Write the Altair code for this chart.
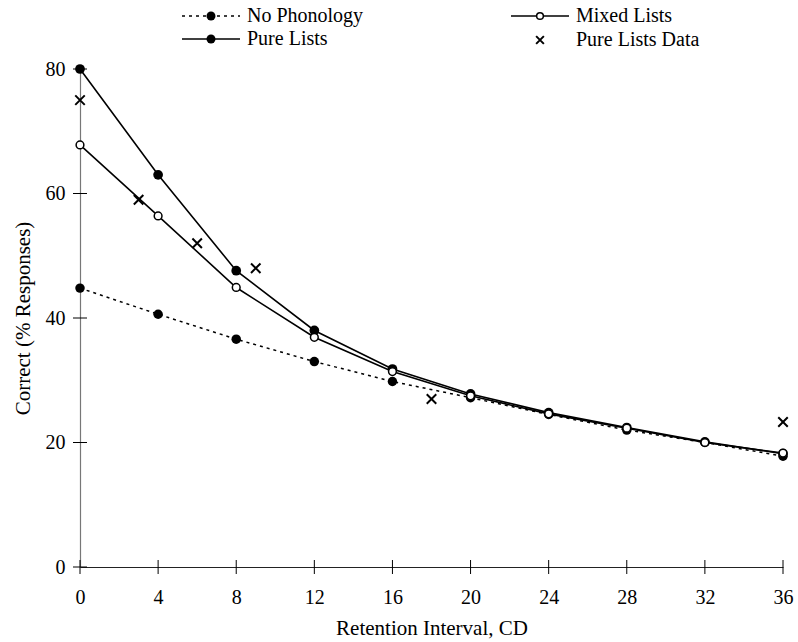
import altair as alt
import pandas as pd

# ---- data ----
x_vals = [0, 4, 8, 12, 16, 20, 24, 28, 32, 36]
no_phonology = [44.8, 40.6, 36.6, 33.0, 29.8, 27.2, 24.5, 22.0, 20.0, 17.8]
pure_lists = [80.0, 63.0, 47.6, 38.0, 31.8, 27.8, 24.8, 22.4, 20.1, 18.2]
mixed_lists = [67.8, 56.4, 44.9, 36.9, 31.4, 27.5, 24.6, 22.3, 20.0, 18.3]
data_x = [0, 3, 6, 9, 18, 36]
data_y = [75.0, 59.0, 52.0, 48.0, 27.0, 23.3]

x_ticks = [0, 4, 8, 12, 16, 20, 24, 28, 32, 36]
y_ticks = [0, 20, 40, 60, 80]

legend_labels = ["No Phonology", "Pure Lists", "Mixed Lists", "Pure Lists Data"]

FONT = "Liberation Serif"
W, H = 703, 498

df_np = pd.DataFrame({"x": x_vals, "y": no_phonology})
df_pl = pd.DataFrame({"x": x_vals, "y": pure_lists})
df_ml = pd.DataFrame({"x": x_vals, "y": mixed_lists})
df_d = pd.DataFrame({"x": data_x, "y": data_y})

xs = alt.Scale(domain=[0, 36], nice=False, zero=False)
ys = alt.Scale(domain=[0, 80], nice=False)

X_PATH = "M-1,-1L1,1M1,-1L-1,1"

xenc = alt.X("x:Q", scale=xs, axis=alt.Axis(
    values=x_ticks, title="Retention Interval, CD", ticks=False,
    domainColor="#222", labelPadding=20, labelFontSize=20, labelFont=FONT,
    labelColor="black", titleFont=FONT, titleFontSize=21, titleFontWeight="normal",
    titleColor="black", titlePadding=10, grid=False, labelFlush=False))
yenc = alt.Y("y:Q", scale=ys, axis=alt.Axis(
    values=y_ticks, title="Correct (% Responses)", ticks=False,
    domainColor="#777", labelPadding=15, labelFontSize=20, labelFont=FONT,
    labelColor="black", titleFont=FONT, titleFontSize=21, titleFontWeight="normal",
    titleColor="black", titlePadding=12, grid=False))

np_line = alt.Chart(df_np).mark_line(color="black", strokeWidth=1.5, strokeDash=[3, 4]).encode(x=xenc, y=yenc)
np_pts = alt.Chart(df_np).mark_point(shape="circle", filled=True, color="black", size=90, opacity=1).encode(x="x:Q", y="y:Q")
pl_line = alt.Chart(df_pl).mark_line(color="black", strokeWidth=1.6).encode(x="x:Q", y="y:Q")
pl_pts = alt.Chart(df_pl).mark_point(shape="circle", filled=True, color="black", size=95, opacity=1).encode(x="x:Q", y="y:Q")
ml_line = alt.Chart(df_ml).mark_line(color="black", strokeWidth=1.6).encode(x="x:Q", y="y:Q")
ml_pts = alt.Chart(df_ml).mark_point(shape="circle", filled=True, fill="white", stroke="black", strokeWidth=1.5, size=60, opacity=1).encode(x="x:Q", y="y:Q")
d_pts = alt.Chart(df_d).mark_point(shape=X_PATH, filled=False, color="black", strokeWidth=2, size=90, opacity=1).encode(x="x:Q", y="y:Q")

# crossing tick marks
df_xt = pd.DataFrame({"x": x_ticks})
df_yt = pd.DataFrame({"y": y_ticks})
xt = alt.Chart(df_xt).mark_rule(color="black", strokeWidth=1).encode(
    x="x:Q", y=alt.value(H - 7), y2=alt.value(H + 7))
yt = alt.Chart(df_yt).mark_rule(color="black", strokeWidth=1).encode(
    y="y:Q", x=alt.value(-7), x2=alt.value(7))

# legend (manual)
def leg_item(x0, yy, label, dash, marker):
    items = []
    one = pd.DataFrame({"a": [0]})
    if dash is not None:
        items.append(alt.Chart(one).mark_rule(
            color="black", strokeWidth=1.5, strokeDash=dash).encode(
            x=alt.value(x0), x2=alt.value(x0 + 58), y=alt.value(yy)))
    if marker == "filled":
        m = alt.Chart(one).mark_point(shape="circle", filled=True, color="black", size=80, opacity=1)
    elif marker == "open":
        m = alt.Chart(one).mark_point(shape="circle", filled=True, fill="white", stroke="black", strokeWidth=1.5, size=45, opacity=1)
    else:
        m = alt.Chart(one).mark_point(shape=X_PATH, filled=False, color="black", strokeWidth=2, size=60, opacity=1)
    items.append(m.encode(x=alt.value(x0 + 29), y=alt.value(yy)))
    items.append(alt.Chart(pd.DataFrame({"t": [label]})).mark_text(
        align="left", baseline="middle", font=FONT, fontSize=20, color="black").encode(
        text="t:N", x=alt.value(x0 + 65), y=alt.value(yy)))
    return items

leg = []
leg += leg_item(182 - 80, 16 - 69, legend_labels[0], [3, 4], "filled")
leg += leg_item(182 - 80, 39 - 69, legend_labels[1], [], "filled")
leg += leg_item(511 - 80, 16 - 69, legend_labels[2], [], "open")
leg += leg_item(511 - 80, 40 - 69, legend_labels[3], None, "x")

chart = alt.layer(
    np_line, pl_line, ml_line, xt, yt, np_pts, pl_pts, ml_pts, d_pts, *leg
).properties(
    width=W, height=H,
    autosize=alt.AutoSizeParams(type="none"),
    padding={"left": 80, "top": 69, "right": 15, "bottom": 75},
).configure_view(stroke=None).configure_axis(domainWidth=1.2)

chart.save("out.html", embed_options={"renderer": "svg", "actions": False})
